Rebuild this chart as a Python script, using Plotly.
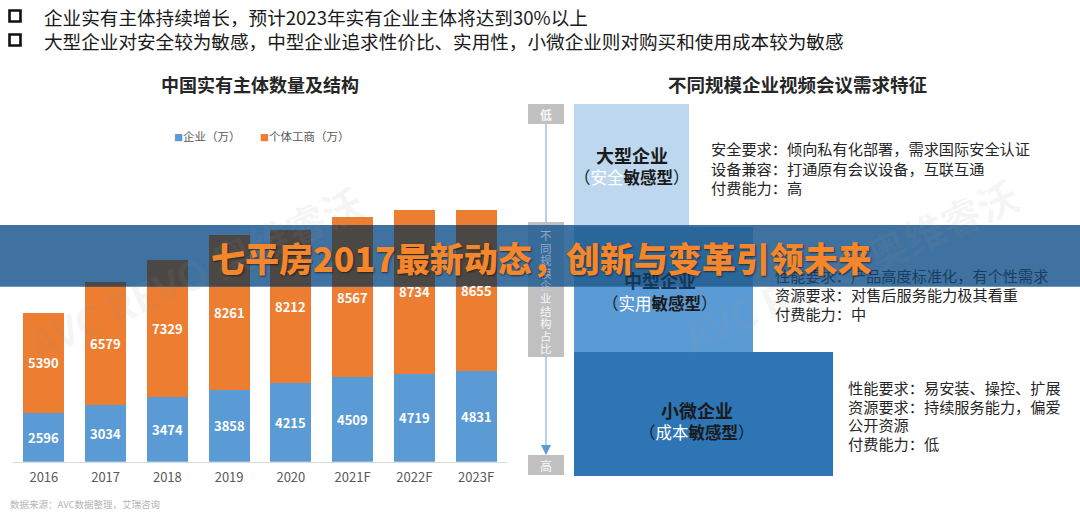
import plotly.graph_objects as go

# ---------------- data ----------------
years = ["2016", "2017", "2018", "2019", "2020", "2021F", "2022F", "2023F"]
enterprise = [2596, 3034, 3474, 3858, 4215, 4509, 4719, 4831]
individual = [5390, 6579, 7329, 8261, 8212, 8567, 8734, 8655]

bullets = [
    "企业实有主体持续增长，预计2023年实有企业主体将达到30%以上",
    "大型企业对安全较为敏感，中型企业追求性价比、实用性，小微企业则对购买和使用成本较为敏感",
]
left_title = "中国实有主体数量及结构"
right_title = "不同规模企业视频会议需求特征"
series_names = ["企业（万）", "个体工商（万）"]
source_text = "数据来源：AVC数据整理，艾瑞咨询"
banner_text = "七平房2017最新动态，创新与变革引领未来"

seg_names = ["大型企业", "中型企业", "小微企业"]
seg_types = [("安全", "敏感型"), ("实用", "敏感型"), ("成本", "敏感型")]
seg_desc = [
    ["安全要求：倾向私有化部署，需求国际安全认证", "设备兼容：打通原有会议设备，互联互通", "付费能力：高"],
    ["性能要求：产品高度标准化，有个性需求", "资源要求：对售后服务能力极其看重", "付费能力：中"],
    ["性能要求：易安装、操控、扩展", "资源要求：持续服务能力，偏爱", "公开资源", "付费能力：低"],
]
axis_low, axis_high, axis_mid = "低", "高", "不同规模企业结构占比"
watermark = "AVC REVO 奥维睿沃"

# ---------------- layout constants ----------------
W, H = 1080, 513
FONT = "Noto Sans CJK SC"
BLUE, ORANGE, GRAY_BAR = "#5b9bd5", "#ed7d31", "#4b4744"
BAND_TOP, BAND_BOT = 225, 286.7
BASE_PX, PX_PER_UNIT = 461.7, 0.01868
UPPER_TOP = 150


def fx(px):
    return px / W


def fy(py):
    return 1 - py / H


def val(py):
    return (BASE_PX - py) / PX_PER_UNIT


def note(px, py, text, size, color, xanchor="center", **kw):
    d = dict(x=fx(px), y=fy(py), xref="paper", yref="paper", text=text, showarrow=False,
             xanchor=xanchor, yanchor="middle", font=dict(family=FONT, size=size, color=color))
    d["font"].update(kw.pop("font_extra", {}))
    d.update(kw)
    return d


fig = go.Figure()

# (x axis, y axis, colours): lower part, part hidden under the banner, upper part
parts = [("x", "y", BLUE, ORANGE), ("x2", "y2", GRAY_BAR, GRAY_BAR), ("x3", "y3", BLUE, ORANGE)]
for xa, ya, c1, c2 in parts:
    fig.add_trace(go.Bar(x=years, y=enterprise, marker_color=c1, marker_line_width=0,
                         xaxis=xa, yaxis=ya, showlegend=False, hoverinfo="skip"))
    fig.add_trace(go.Bar(x=years, y=individual, marker_color=c2, marker_line_width=0,
                         xaxis=xa, yaxis=ya, showlegend=False, hoverinfo="skip"))

shapes = []
annotations = []

# ---------- top bullets ----------
for i, t in enumerate(bullets):
    cy = 16 + i * 24
    shapes.append(dict(type="rect", xref="paper", yref="paper",
                       x0=fx(9.5), x1=fx(20.5), y0=fy(cy + 5.5), y1=fy(cy - 5.5),
                       line=dict(color="#111111", width=2.6), fillcolor="rgba(0,0,0,0)"))
    annotations.append(note(42, cy, t, 18.6, "#1a1a1a", xanchor="left"))

# ---------- titles ----------
annotations.append(note(260, 84, "<b>%s</b>" % left_title, 18, "#262626"))
annotations.append(note(797, 84, "<b>%s</b>" % right_title, 18.5, "#262626"))

# ---------- legend ----------
for name, col, lx in zip(series_names, [BLUE, ORANGE], [172, 258]):
    annotations.append(note(lx, 136, "<span style='color:%s;font-size:9px'>■</span>%s" % (col, name),
                            11.5, "#595959", xanchor="left"))

# ---------- bar labels ----------
for idx, (e, ind) in enumerate(zip(enterprise, individual)):
    for yv, v in [(e / 2, e), (e + ind / 2, ind)]:
        annotations.append(dict(x=idx, y=yv, xref="x", yref="y", text="<b>%d</b>" % v, showarrow=False,
                                xanchor="center", yanchor="middle",
                                font=dict(family=FONT, size=13, color="white")))

# ---------- source ----------
annotations.append(note(8, 504, source_text, 9.5, "#b5b5b5", xanchor="left"))

# ---------- right diagram ----------
IND_GRAY = "#c0c0c0"
shapes.append(dict(type="line", xref="paper", yref="paper", x0=fx(546), x1=fx(546),
                   y0=fy(448), y1=fy(124), line=dict(color="#9dc3e6", width=1.5), layer="below"))
shapes.append(dict(type="path", xref="paper", yref="paper",
                   path="M %f,%f L %f,%f L %f,%f Z" % (fx(541), fy(445), fx(551), fy(445), fx(546), fy(455)),
                   fillcolor=BLUE, line=dict(width=0), layer="below"))
for (y0, y1) in [(104, 124), (222, 357), (455, 475)]:
    shapes.append(dict(type="rect", xref="paper", yref="paper", x0=fx(528), x1=fx(564),
                       y0=fy(y1), y1=fy(y0), fillcolor=IND_GRAY, line=dict(width=0), layer="below"))
annotations.append(note(546, 114, "<b>%s</b>" % axis_low, 12, "#f7f7f7"))
annotations.append(note(546, 465, axis_high, 12, "#f7f7f7"))
for i, ch in enumerate(axis_mid):
    cy = 235 + i * 12.6
    col = "rgba(200,215,230,0.6)" if cy < BAND_BOT else "#f7f7f7"
    annotations.append(note(546, cy, ch, 11.5, col))

boxes = [
    (574, 689, 104, 227, "#bdd7ee"),
    (574, 753, 227, 352, "#5b9bd5"),
    (574, 833, 352, 476, "#2e75b6"),
]
for x0, x1, y0, y1, c in boxes:
    shapes.append(dict(type="rect", xref="paper", yref="paper", x0=fx(x0), x1=fx(x1),
                       y0=fy(y1), y1=fy(y0), fillcolor=c, line=dict(width=0), layer="below"))

name_pos = [(632, 155, 177), (660, 280, 303), (697, 410, 432)]
name_colors = ["#1a1a1a", "#16375a", "#1a1a1a"]
for (cx, ny, ty), nm, (hl, rest), nc in zip(name_pos, seg_names, seg_types, name_colors):
    annotations.append(note(cx, ny, "<b>%s</b>" % nm, 18, nc))
    annotations.append(note(cx, ty, "（<span style='color:#ffffff'>%s</span><b>%s</b>）" % (hl, rest),
                            16.5, "#1a1a1a"))

desc_pos = [(709, [148, 168, 187]), (773, [275, 294, 313]), (846, [387, 406, 424, 443])]
for (dx, ys), lines in zip(desc_pos, seg_desc):
    for yy, ln in zip(ys, lines):
        col = "#1a3d60" if BAND_TOP <= yy <= BAND_BOT else "#262626"
        annotations.append(note(dx, yy, ln, 15.2, col, xanchor="left"))

# ---------- watermarks ----------
for wx, wy in [(195, 272), (850, 265)]:
    annotations.append(note(wx, wy, "<b>%s</b>" % watermark, 40, "rgba(150,150,150,0.09)", textangle=-24))

# ---------- banner ----------
shapes.append(dict(type="rect", xref="paper", yref="paper", x0=0, x1=1,
                   y0=fy(BAND_BOT), y1=fy(BAND_TOP), fillcolor="rgba(36,95,147,0.88)",
                   line=dict(width=0), layer="below"))
annotations.append(note(541, 257, banner_text, 34, "#f5862c",
                        font_extra=dict(weight=900, shadow="1px 1px 2px rgba(0,0,0,0.55)")))

xdom = [fx(13), fx(507)]
xcommon = dict(domain=xdom, type="category", categoryorder="array", categoryarray=years,
               range=[-0.5, len(years) - 0.5], showgrid=False, zeroline=False,
               automargin=False, fixedrange=True)
ycommon = dict(visible=False, showgrid=False, zeroline=False, fixedrange=True)

fig.update_layout(
    width=W, height=H, autosize=False,
    margin=dict(l=0, r=0, t=0, b=0),
    paper_bgcolor="white", plot_bgcolor="rgba(0,0,0,0)",
    barmode="stack", bargap=0.334,
    showlegend=False,
    xaxis=dict(anchor="y", showline=True, linecolor="#d9d9d9", linewidth=1.2, ticks="outside",
               ticklen=4, tickcolor="rgba(0,0,0,0)",
               tickfont=dict(family=FONT, size=13, color="#595959"), **xcommon),
    xaxis2=dict(anchor="y2", visible=False, **xcommon),
    xaxis3=dict(anchor="y3", visible=False, **xcommon),
    yaxis=dict(anchor="x", domain=[fy(BASE_PX), fy(BAND_BOT)], range=[0, val(BAND_BOT)], **ycommon),
    yaxis2=dict(anchor="x2", domain=[fy(BAND_BOT), fy(BAND_TOP)], range=[val(BAND_BOT), val(BAND_TOP)],
                **ycommon),
    yaxis3=dict(anchor="x3", domain=[fy(BAND_TOP), fy(UPPER_TOP)], range=[val(BAND_TOP), val(UPPER_TOP)],
                **ycommon),
    shapes=shapes,
    annotations=annotations,
)

fig.write_html("out.html", config={"displayModeBar": False},
               post_script="document.body.style.margin='0';document.body.style.overflow='hidden';")
